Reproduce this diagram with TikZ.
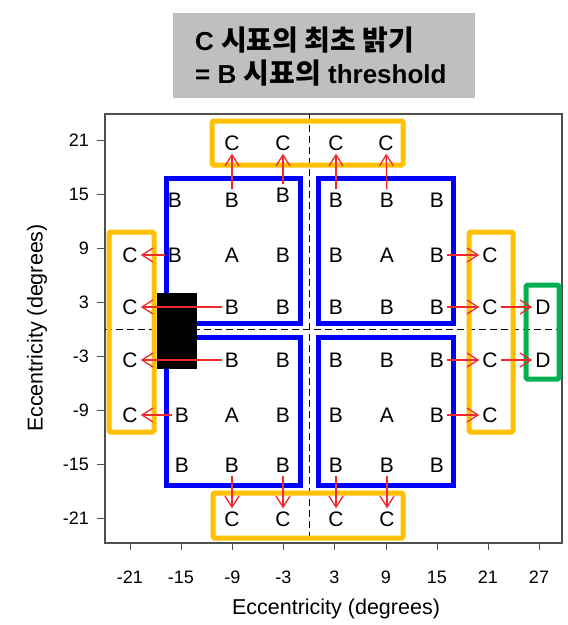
\documentclass[tikz,border=0pt]{standalone}
\usepackage{fontspec}
\setmainfont{Liberation Sans}
\newfontfamily\krfont{Noto Sans CJK KR}
\usetikzlibrary{arrows.meta}
\definecolor{myyellow}{HTML}{FFC000}
\definecolor{myblue}{HTML}{0000FF}
\definecolor{mygreen}{HTML}{00B050}
\definecolor{myred}{HTML}{EE2A2A}
\definecolor{myframe}{HTML}{505050}
\newcommand{\krbig}{\krfont\bfseries\fontsize{28}{30}\selectfont}
\tikzset{
  lt/.style={font=\fontsize{21}{24}\selectfont, text height=15pt, text depth=0pt, inner sep=3pt},
  arr/.style={draw=myred, line width=1.2pt, -{Straight Barb[length=11pt,width=14pt,line width=1.3pt]}},
  bluebox/.style={draw=myblue, line width=5pt},
  yelbox/.style={draw=myyellow, line width=5pt, rounded corners=1.5pt},
  grnbox/.style={draw=mygreen, line width=5pt, rounded corners=1.5pt},
  ticklab/.style={font=\fontsize{18}{20}\selectfont, inner sep=0pt},
  axlab/.style={font=\fontsize{21.5}{24}\selectfont, inner sep=0pt},
  titletext/.style={anchor=base west, inner sep=0pt, font=\bfseries\fontsize{26}{28}\selectfont}
}
\begin{document}
\begin{tikzpicture}[x=1pt,y=-1pt]
\useasboundingbox (0,0) rectangle (568,625);
% title
\node[fill=gray!50, minimum width=302pt, minimum height=85pt, inner sep=0pt] (title) at (324,55.5) {};
\node[titletext] (t1) at (195,50) {C {\krbig 시표의 최초 밝기}};
\node[titletext] (t2) at (195,83) {= B {\krbig 시표의} threshold};
% frame
\draw[myframe, line width=1.1pt] (105,114) rectangle (562,543);
% dashed axes
\draw[black, line width=0.8pt, dash pattern=on 7pt off 4pt] (309.5,114) -- (309.5,543);
\draw[black, line width=0.8pt, dash pattern=on 7pt off 4pt] (105,329) -- (562,329);
% y ticks
\foreach \v/\yy in {21/140.5,15/194.5,9/248,3/302,-3/356,-9/410,-15/464,-21/518}{
  \draw[myframe, line width=1pt] (97,\yy) -- (105,\yy);
  \node[ticklab, anchor=east] at (89,\yy) {\v};
}
% x ticks
\foreach \v/\xx in {-21/130,-15/181,-9/232.5,-3/283.5,3/334.5,9/386,15/437,21/488,27/539}{
  \draw[myframe, line width=1pt] (\xx,543) -- (\xx,550);
  \node[ticklab] at (\xx,577) {\v};
}
\node[axlab] (xlab) at (336,609) {Eccentricity (degrees)};
\node[axlab, rotate=90] (ylab) at (37,328) {Eccentricity (degrees)};
% boxes
\draw[bluebox] (166,178) rectangle (300,323);
\draw[bluebox] (318,178) rectangle (453,323);
\draw[bluebox] (166,337) rectangle (300,485);
\draw[bluebox] (318,337) rectangle (453,485);
\draw[yelbox] (212,121) rectangle (403,165);
\draw[yelbox] (213,493) rectangle (403,538);
\draw[yelbox] (109,232) rectangle (154,432);
\draw[yelbox] (469,232) rectangle (513,432);
\draw[grnbox] (526,285) rectangle (559,379);
\fill[black] (157,293) rectangle (197,369);
% letters top-left
\node[lt] (tlB1) at (175,200) {B};
\node[lt] (tlB2) at (232,200) {B};
\node[lt] (tlB3) at (283,195) {B};
\node[lt] (tlB4) at (175,255) {B};
\node[lt] (tlA)  at (232,255) {A};
\node[lt] (tlB6) at (283,255) {B};
\node[lt] (tlB8) at (232,307) {B};
\node[lt] (tlB9) at (283,307) {B};
% top-right
\node[lt] (trB1) at (336,200) {B};
\node[lt] (trB2) at (387,200) {B};
\node[lt] (trB3) at (437,200) {B};
\node[lt] (trB4) at (336,255) {B};
\node[lt] (trA)  at (387,255) {A};
\node[lt] (trB6) at (437,255) {B};
\node[lt] (trB7) at (336,307) {B};
\node[lt] (trB8) at (387,307) {B};
\node[lt] (trB9) at (437,307) {B};
% bottom-left
\node[lt] (blB2) at (232,360) {B};
\node[lt] (blB3) at (283,360) {B};
\node[lt] (blB4) at (182,415) {B};
\node[lt] (blA)  at (232,415) {A};
\node[lt] (blB6) at (283,415) {B};
\node[lt] (blB7) at (182,465) {B};
\node[lt] (blB8) at (232,465) {B};
\node[lt] (blB9) at (283,465) {B};
% bottom-right
\node[lt] (brB1) at (336,360) {B};
\node[lt] (brB2) at (387,360) {B};
\node[lt] (brB3) at (437,360) {B};
\node[lt] (brB4) at (336,415) {B};
\node[lt] (brA)  at (387,415) {A};
\node[lt] (brB6) at (437,415) {B};
\node[lt] (brB7) at (336,465) {B};
\node[lt] (brB8) at (387,465) {B};
\node[lt] (brB9) at (437,465) {B};
% C letters
\node[lt] (ct1) at (232,143) {C};
\node[lt] (ct2) at (283,143) {C};
\node[lt] (ct3) at (336,143) {C};
\node[lt] (ct4) at (386,143) {C};
\node[lt] (cl1) at (130,255) {C};
\node[lt] (cl2) at (130,307) {C};
\node[lt] (cl3) at (130,360) {C};
\node[lt] (cl4) at (130,415) {C};
\node[lt] (cr1) at (490,255) {C};
\node[lt] (cr2) at (490,307) {C};
\node[lt] (cr3) at (490,360) {C};
\node[lt] (cr4) at (490,415) {C};
\node[lt] (cb1) at (232,519) {C};
\node[lt] (cb2) at (283,519) {C};
\node[lt] (cb3) at (336,519) {C};
\node[lt] (cb4) at (387,519) {C};
\node[lt] (d1) at (543,307) {D};
\node[lt] (d2) at (543,360) {D};
% arrows
\draw[arr] (tlB2) -- (ct1);
\draw[arr] (tlB3) -- (ct2);
\draw[arr] (trB1) -- (ct3);
\draw[arr] (trB2) -- (ct4);
\draw[arr] (tlB4) -- (cl1);
\draw[arr] (tlB8) -- (cl2);
\draw[arr] (blB2) -- (cl3);
\draw[arr] (blB4) -- (cl4);
\draw[arr] (trB6) -- (cr1);
\draw[arr] (trB9) -- (cr2);
\draw[arr] (cr2) -- (d1);
\draw[arr] (brB3) -- (cr3);
\draw[arr] (cr3) -- (d2);
\draw[arr] (brB6) -- (cr4);
\draw[arr] (blB8) -- (cb1);
\draw[arr] (blB9) -- (cb2);
\draw[arr] (brB7) -- (cb3);
\draw[arr] (brB8) -- (cb4);
\end{tikzpicture}
\end{document}
